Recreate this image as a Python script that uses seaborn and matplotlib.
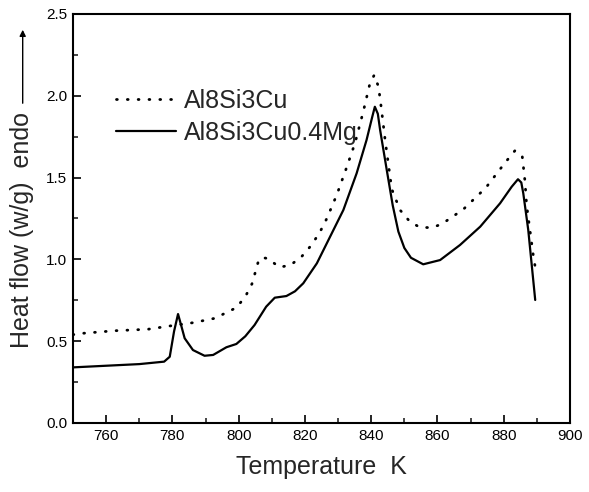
import pandas as pd
import matplotlib
matplotlib.use("Agg")
import matplotlib.pyplot as plt
from matplotlib.ticker import MultipleLocator
import seaborn as sns

# Al8Si3Cu (dotted)
temp_cu = [750, 752.8, 762.6, 772.6, 779.2, 786.2, 792.8, 799.3, 802, 804, 805, 806.1,
           807.5, 809.1, 810.8, 812.4, 815.7, 819, 822, 824.6, 826.6, 829.6, 832.3,
           835.1, 837.6, 839.5, 840.9, 842.2, 843, 844.2, 846.2, 848.7, 851.7, 854.7,
           858.3, 861.3, 867.8, 874.6, 880.4, 883.4, 885.6, 886.4, 886.9, 887.9,
           888.9, 889.6]
flow_cu = [0.54, 0.548, 0.564, 0.573, 0.593, 0.613, 0.64, 0.705, 0.772, 0.85, 0.92, 1.0,
           1.01, 1.004, 0.975, 0.952, 0.966, 1.017, 1.088, 1.17, 1.25, 1.394, 1.546,
           1.71, 1.903, 2.066, 2.127, 2.056, 1.933, 1.73, 1.43, 1.302, 1.23, 1.196,
           1.194, 1.216, 1.306, 1.438, 1.591, 1.665, 1.628, 1.48, 1.333, 1.18,
           1.027, 0.94]

# Al8Si3Cu0.4Mg (solid)
temp_mg = [750, 760, 770, 777.5, 779.2, 780.5, 781.7, 782.6, 783.7, 786.2, 789.7, 792.3,
           796.3, 799.3, 802, 804.8, 808.3, 810.9, 814.4, 817, 819.5, 823.6, 827.6,
           831.6, 835.6, 838.6, 840.3, 841.1, 842, 842.7, 844.7, 846.5, 848.2, 850,
           852, 855.7, 860.8, 866.8, 872.9, 878.9, 882.4, 884.3, 885.3, 885.9, 887.4,
           888.4, 889.5]
flow_mg = [0.34, 0.35, 0.36, 0.375, 0.405, 0.56, 0.666, 0.6, 0.518, 0.446, 0.411, 0.416,
           0.463, 0.483, 0.53, 0.599, 0.711, 0.766, 0.776, 0.805, 0.854, 0.976, 1.139,
           1.302, 1.526, 1.73, 1.87, 1.933, 1.89, 1.79, 1.546, 1.33, 1.17, 1.07,
           1.01, 0.97, 0.996, 1.088, 1.2, 1.343, 1.444, 1.49, 1.47, 1.404, 1.18,
           0.976, 0.752]

df_cu = pd.DataFrame({"T": temp_cu, "flow": flow_cu})
df_mg = pd.DataFrame({"T": temp_mg, "flow": flow_mg})

sns.set_theme(style="ticks")
plt.rcParams['font.family'] = ['Liberation Sans', 'DejaVu Sans']

fig = plt.figure(figsize=(5.89, 4.92), dpi=100)
ax = fig.add_axes([73 / 589, 69 / 492, 497 / 589, 409 / 492])

sns.lineplot(data=df_cu, x="T", y="flow", ax=ax, sort=False, color="black",
             linewidth=2.0, linestyle=(0, (0.3, 3.6)), dash_capstyle="round",
             label="Al8Si3Cu")
sns.lineplot(data=df_mg, x="T", y="flow", ax=ax, sort=False, color="black",
             linewidth=1.6, label="Al8Si3Cu0.4Mg")

ax.set_xlim(750, 900)
ax.set_ylim(0, 2.5)
ax.xaxis.set_major_locator(MultipleLocator(20))
ax.xaxis.set_minor_locator(MultipleLocator(10))
ax.yaxis.set_major_locator(MultipleLocator(0.5))
ax.yaxis.set_minor_locator(MultipleLocator(0.25))
ax.set_xticks([760, 780, 800, 820, 840, 860, 880, 900])
ax.tick_params(which="major", direction="in", length=6, width=1.2, labelsize=11,
               pad=4, colors="black")
ax.tick_params(which="minor", direction="in", length=3.5, width=1.2)
for sp in ax.spines.values():
    sp.set_linewidth(1.5)
    sp.set_color("black")

ax.set_xlabel("Temperature  K", fontsize=18, labelpad=9)
ax.set_ylabel("")
fig.text(22 / 589, 1 - 230 / 492, "Heat flow (w/g)  endo", rotation=90,
         ha="center", va="center", fontsize=18)
ax.annotate("", xy=(22.7 / 589, 1 - 27 / 492), xytext=(22.7 / 589, 1 - 106 / 492),
            xycoords="figure fraction", textcoords="figure fraction",
            arrowprops=dict(arrowstyle="-|>", lw=1, color="black", mutation_scale=9))

ax.legend(loc="upper left", bbox_to_anchor=(116 / 589, 1 - 89 / 492),
          bbox_transform=fig.transFigure, frameon=False, fontsize=18,
          handlelength=2.4, handletextpad=0.3, labelspacing=0.32,
          borderpad=0, borderaxespad=0)

fig.savefig("out.png", dpi=100)
